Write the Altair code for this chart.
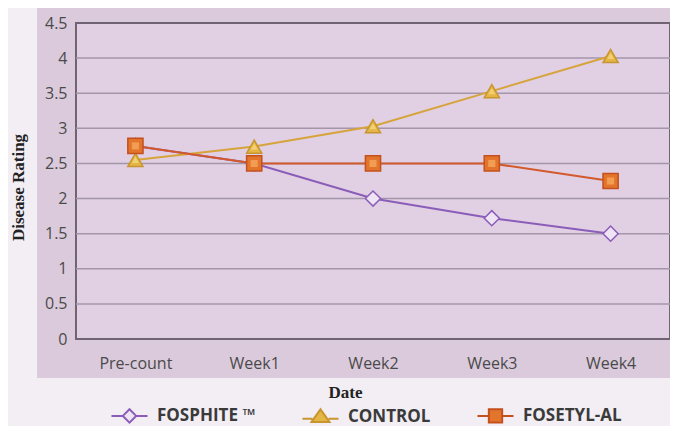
import altair as alt
import pandas as pd

# ---- data ----
dates = ["Pre-count", "Week1", "Week2", "Week3", "Week4"]
series_names = ["FOSPHITE ™", "CONTROL", "FOSETYL-AL"]
fosphite = [2.75, 2.5, 2.0, 1.72, 1.5]
control = [2.55, 2.74, 3.03, 3.53, 4.03]
fosetyl = [2.75, 2.5, 2.5, 2.5, 2.25]
y_ticks = [0, 0.5, 1, 1.5, 2, 2.5, 3, 3.5, 4, 4.5]
grid_ticks = [0.5, 1, 1.5, 2, 2.5, 3, 3.5, 4]

rows = []
for name, vals in zip(series_names, [fosphite, control, fosetyl]):
    for d, v in zip(dates, vals):
        rows.append({"date": d, "series": name, "value": v})
df = pd.DataFrame(rows)
grid_df = pd.DataFrame({"value": grid_ticks})
one = pd.DataFrame({"a": [0]})

# ---- styling ----
W, H = 594, 316
line_colors = ["#8a5db8", "#d6a43a", "#d2592c"]
fill_colors = ["#efe4f4", "#e4b646", "#e3742c"]
stroke_colors = ["#8a5db8", "#c8952e", "#c4501e"]
hi_colors = ["#efe4f4", "#f2d57a", "#f4a45c"]
shapes = ["diamond", "triangle-up", "square"]
legend_shapes = [
    "M-1,0L-0.37,0M0.37,0L1,0M0,-0.37L0.37,0L0,0.37L-0.37,0Z",
    "M-1,0.12L-0.45,0.12M0.45,0.12L1,0.12M0,-0.4L0.5,0.3L-0.5,0.3Z",
    "M-1,0L-0.37,0M0.37,0L1,0M-0.37,-0.37L0.37,-0.37L0.37,0.37L-0.37,0.37Z",
]

panel_col = "#dbcadc"
plot_col = "#e1cfe4"
grid_col = "#a496a8"
frame_col = "#6f6374"
label_col = "#4a4a4a"

y_axis = alt.Axis(
    title="Disease Rating", values=y_ticks, format="~g", ticks=False,
    domain=False, grid=False, zindex=1, labelPadding=9,
    labelOverlap=False, labelFlush=False,
    labelFont="Open Sans", labelFontSize=16, labelColor=label_col,
    titleFont="Liberation Serif", titleFontSize=17, titleFontWeight="bold",
    titleColor="#222222", titleX=-58, titleY=164, titleAngle=270,
    titleAlign="center", titleBaseline="middle",
)
y_scale = alt.Scale(domain=[0, 4.5], nice=False, zero=True)

x_enc = alt.X(
    "date:N",
    sort=dates,
    scale=alt.Scale(type="point", padding=0.5, domain=dates),
    axis=alt.Axis(
        title="Date", labelAngle=0, labelPadding=16, ticks=False, domain=False,
        grid=False, zindex=1, labelFont="Open Sans", labelFontSize=16,
        labelColor=label_col, labelOverlap=False, labelFlush=False,
        titleFont="Liberation Serif", titleFontSize=17,
        titleFontWeight="bold", titleColor="#222222", titleX=269, titleY=53,
        titleAlign="center", titleBaseline="middle",
    ),
)
y_enc = alt.Y("value:Q", scale=y_scale, axis=y_axis)

# panel behind the plot
panel = alt.Chart(one).mark_rect(color=panel_col).encode(
    x=alt.value(-39), x2=alt.value(W), y=alt.value(-18), y2=alt.value(H + 39)
)
plot_bg = alt.Chart(one).mark_rect(
    fill=plot_col, stroke=frame_col, strokeWidth=2
).encode(x=alt.value(0), x2=alt.value(W), y=alt.value(0), y2=alt.value(H))

grid = alt.Chart(grid_df).mark_rule(color=grid_col, strokeWidth=1.5).encode(
    y=alt.Y("value:Q", scale=y_scale, axis=y_axis),
    x=alt.value(0), x2=alt.value(W),
)

lines = alt.Chart(df).mark_line(strokeWidth=2).encode(
    x=x_enc, y=y_enc,
    color=alt.Color("series:N", scale=alt.Scale(domain=series_names, range=line_colors), legend=None),
    order=alt.Order("date_idx:Q"),
).transform_calculate(
    date_idx="indexof(['Pre-count','Week1','Week2','Week3','Week4'], datum.date)"
)

points = alt.Chart(df).mark_point(filled=True, strokeWidth=1.5, opacity=1, size=230).encode(
    x=x_enc, y=y_enc,
    shape=alt.Shape("series:N", scale=alt.Scale(domain=series_names, range=shapes), legend=None),
    fill=alt.Fill("series:N", scale=alt.Scale(domain=series_names, range=fill_colors), legend=None),
    stroke=alt.Stroke("series:N", scale=alt.Scale(domain=series_names, range=stroke_colors), legend=None),
)

highlights = alt.Chart(df).transform_filter(
    "datum.series != 'FOSPHITE ™'"
).mark_point(filled=True, size=50, opacity=0.85, strokeWidth=0).encode(
    x=x_enc, y=y_enc,
    shape=alt.Shape("series:N", scale=alt.Scale(domain=series_names, range=shapes), legend=None),
    fill=alt.Fill("series:N", scale=alt.Scale(domain=series_names, range=hi_colors), legend=None),
)

leg = alt.Legend(
    title=None, orient="none", legendX=34, legendY=373, direction="horizontal",
    symbolSize=1300, symbolStrokeWidth=2, symbolOpacity=1, labelFont="Open Sans",
    labelFontSize=17, labelFontWeight="bold", labelColor="#3a3a3a",
    labelOffset=8, columnPadding=42,
)
legend_layer = alt.Chart(df).transform_filter("false").mark_point(filled=True).encode(
    shape=alt.Shape("series:N", scale=alt.Scale(domain=series_names, range=legend_shapes), legend=leg),
    fill=alt.Fill("series:N", scale=alt.Scale(domain=series_names, range=fill_colors), legend=leg),
    stroke=alt.Stroke("series:N", scale=alt.Scale(domain=series_names, range=stroke_colors), legend=leg),
)

chart = alt.layer(
    panel, plot_bg, grid, lines, points, highlights, legend_layer
).resolve_scale(
    shape="independent", fill="independent", stroke="independent"
).properties(
    width=W, height=H,
    autosize=alt.AutoSizeParams(type="none"),
    padding={"left": 68, "top": 15, "right": 0, "bottom": 87},
    background="#f2eef4",
).configure_view(stroke=None)

chart.save("out.html", embed_options={"renderer": "svg", "actions": False})
